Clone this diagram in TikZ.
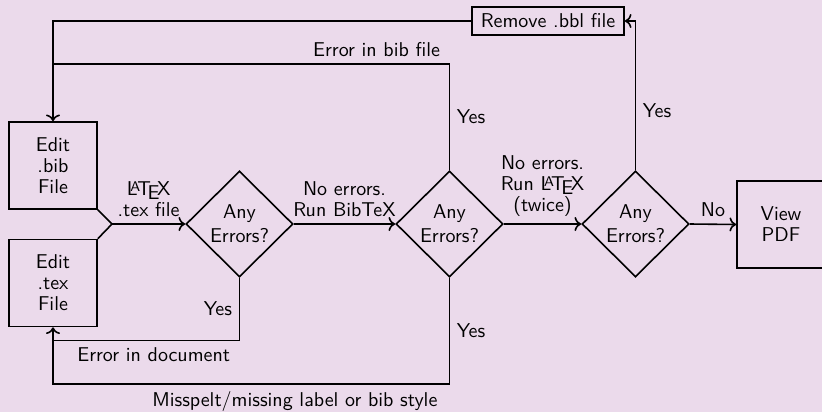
\documentclass[tikz,border=0pt]{standalone}
\usepackage{fontspec}
\usepackage{tikz}
\usetikzlibrary{arrows.meta,positioning,calc,shapes.geometric}
\definecolor{bgpink}{RGB}{235,218,235}
\renewcommand{\familydefault}{\sfdefault}

\begin{document}
\begin{tikzpicture}[x=0.5pt,y=-0.5pt,thick,font=\sffamily,
  tight/.style={font=\sffamily\fontsize{10}{10.5}\selectfont,align=center},
  filebox/.style={draw,tight,minimum width=44pt,minimum height=43.5pt,inner sep=1pt},
  decision/.style={draw,diamond,aspect=1,align=center,inner sep=0pt,minimum width=53.5pt,minimum height=53pt}]
  \def\midy{224} % height of the main line
  \fill[bgpink] (0,0) rectangle (822,412); % background
  \useasboundingbox (0,0) rectangle (822,412);
  \node[filebox] (bib) at (53,165.5) {Edit\\.bib\\File}; % edit the bib file
  \node[filebox] (tex) at (53,283) {Edit\\.tex\\File}; % edit the tex file
  \coordinate (join) at (112,\midy); % both files meet here
  \node[decision] (d1) at (239.5,\midy) {Any\\Errors?};
  \node[decision] (d2) at (449.5,\midy) {Any\\Errors?};
  \node[decision] (d3) at (635.5,\midy) {Any\\Errors?};
  \node[filebox] (pdf) at (781,224.5) {View\\PDF}; % partly off the page on the right
  \node[draw,tight,minimum width=76pt,minimum height=14pt,inner sep=1pt] (bbl) at (548,21) {Remove .bbl file};
  \coordinate (bibin) at (53,64); % bib error joins the top line
  \coordinate (docin) at (53,340.5); % document error
  \coordinate (misin) at (53,384); % missing label / style
  \draw (bib.south east) -- (join);
  \draw (tex.north east) -- (join);
  \draw[->] (join) -- (d1.west) node[midway,above,tight]{\LaTeX\\.tex file};
  \draw[->] (d1.east) -- (d2.west) node[midway,above,tight]{No errors.\\Run BibTeX};
  \draw[->] (d2.east) -- (d3.west) node[midway,above,tight]{No errors.\\Run \LaTeX\\(twice)};
  \draw[->] (d3.east) -- (pdf.west) node[midway,above,tight]{No};
  \draw[->] (d3.north) |- (bbl.east) node[pos=0.2,right,tight]{Yes};
  \draw[->] (bbl.west) -| (bib.north);
  \draw (d2.north) |- (bibin) node[pos=0.25,right,tight]{Yes} node[pos=0.592,above,tight]{Error in bib file};
  \draw[->] (d1.south) |- (docin) node[pos=0.25,left,tight]{Yes} node[pos=0.73,below,tight]{Error in document} -- (tex.south);
  \draw (d2.south) |- (misin) node[pos=0.25,right,tight]{Yes} node[pos=0.695,below,tight]{Misspelt/missing label or bib style} -- (docin);
\end{tikzpicture}
\end{document}
